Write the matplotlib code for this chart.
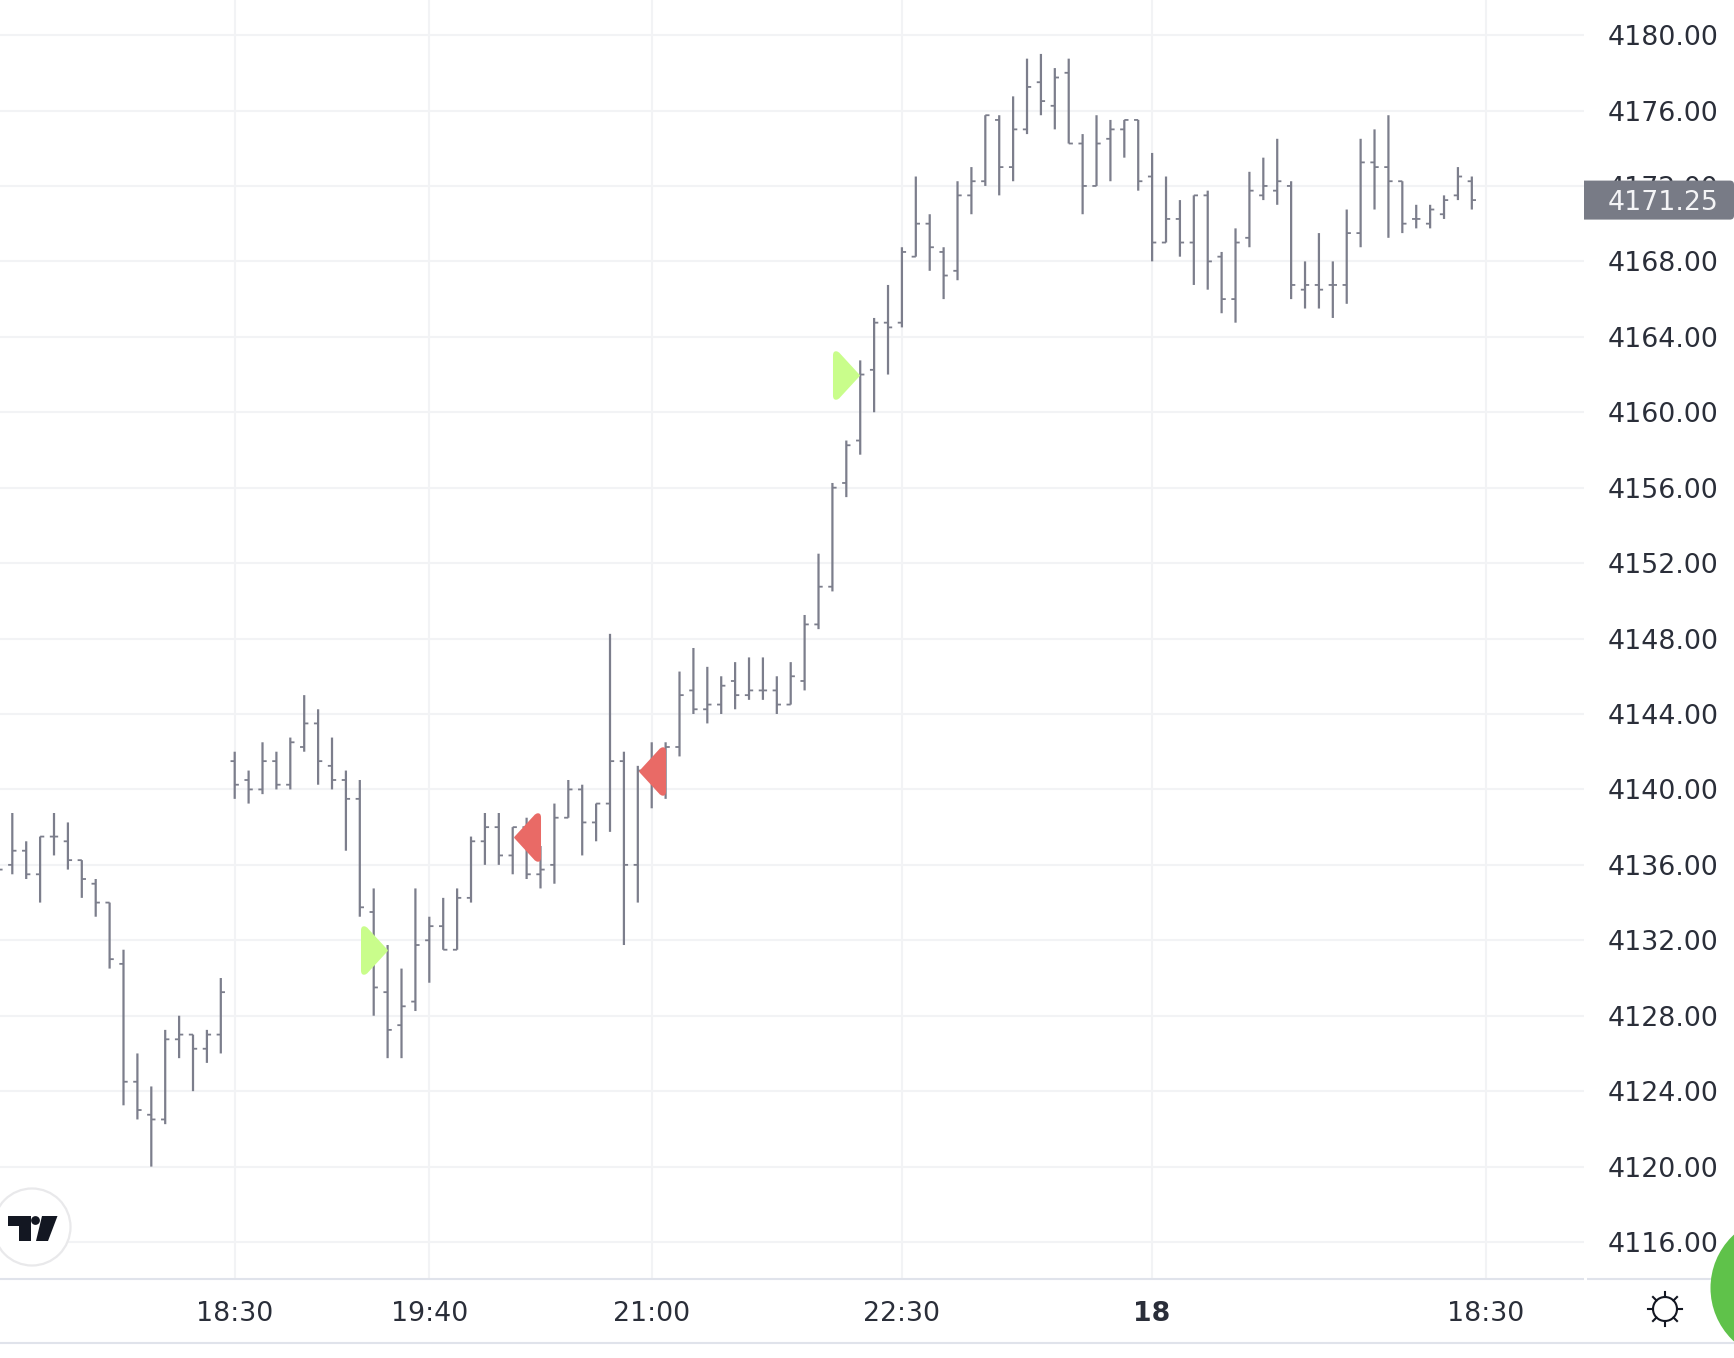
import numpy as np
import matplotlib
matplotlib.use("Agg")
import matplotlib.pyplot as plt
from matplotlib.path import Path
from matplotlib.patches import Circle, Polygon, PathPatch

plt.rcParams['font.family'] = ['DejaVu Sans']

# first bar is the one cut off by the left edge
first_bar = -1

opens = [4136.5,
         4136.0, 4136.75, 4135.5, 4137.5, 4137.25, 4136.25, 4135.0, 4134.0, 4130.75, 4124.5,
         4122.75, 4122.5, 4126.75, 4127.0, 4126.25, 4127.0, 4141.5, 4140.5, 4140.0, 4141.5,
         4140.25, 4142.25, 4143.5, 4141.25, 4140.5, 4139.5, 4133.5, 4129.25, 4127.5, 4128.75,
         4132.0, 4132.75, 4131.5, 4134.25, 4137.25, 4138.0, 4136.5, 4138.0, 4135.5, 4136.0,
         4138.5, 4140.0, 4138.25, 4139.25, 4141.5, 4136.0, 4141.0, 4141.25, 4142.25, 4145.25,
         4144.25, 4144.5, 4145.75, 4145.0, 4145.25, 4145.25, 4144.5, 4145.75, 4148.75, 4150.75,
         4156.25, 4158.5, 4162.25, 4164.75, 4164.75, 4168.25, 4170.0, 4168.5, 4167.5, 4171.5,
         4172.25, 4175.5, 4173.0, 4175.0, 4177.5, 4176.25, 4178.0, 4174.25, 4172.0, 4174.5,
         4175.0, 4175.5, 4172.5, 4169.0, 4170.25, 4169.0, 4171.5, 4168.25, 4166.0, 4169.25,
         4171.5, 4171.75, 4172.0, 4166.5, 4166.75, 4166.75, 4166.75, 4169.5, 4173.25, 4173.0,
         4172.25, 4170.25, 4170.0, 4170.5, 4171.5, 4172.25]
highs = [4138.0,
         4138.75, 4137.25, 4137.5, 4138.75, 4138.25, 4136.25, 4135.25, 4134.0, 4131.5, 4126.0,
         4124.25, 4127.25, 4128.0, 4127.0, 4127.25, 4130.0, 4142.0, 4141.0, 4142.5, 4142.0,
         4142.75, 4145.0, 4144.25, 4142.75, 4141.0, 4140.5, 4134.75, 4131.75, 4130.5, 4134.75,
         4133.25, 4134.25, 4134.75, 4137.5, 4138.75, 4138.75, 4138.0, 4138.5, 4137.0, 4139.25,
         4140.5, 4140.25, 4139.25, 4148.25, 4142.0, 4141.25, 4142.5, 4142.5, 4146.25, 4147.5,
         4146.5, 4146.0, 4146.75, 4147.0, 4147.0, 4146.0, 4146.75, 4149.25, 4152.5, 4156.25,
         4158.5, 4162.75, 4165.0, 4166.75, 4168.75, 4172.5, 4170.5, 4168.75, 4172.25, 4173.0,
         4175.75, 4175.75, 4176.75, 4178.75, 4179.0, 4178.25, 4178.75, 4174.75, 4175.75, 4175.5,
         4175.5, 4175.5, 4173.75, 4172.5, 4171.25, 4171.5, 4171.75, 4168.5, 4169.75, 4172.75,
         4173.5, 4174.5, 4172.25, 4168.0, 4169.5, 4168.0, 4170.75, 4174.5, 4175.0, 4175.75,
         4172.25, 4171.0, 4171.0, 4171.5, 4173.0, 4172.5]
lows = [4135.0,
        4135.5, 4135.25, 4134.0, 4136.5, 4135.75, 4134.25, 4133.25, 4130.5, 4123.25, 4122.5,
        4120.0, 4122.25, 4125.75, 4124.0, 4125.5, 4126.0, 4139.5, 4139.25, 4139.75, 4140.0,
        4140.0, 4142.0, 4140.25, 4140.0, 4136.75, 4133.25, 4128.0, 4125.75, 4125.75, 4128.25,
        4129.75, 4131.5, 4131.5, 4134.0, 4136.0, 4136.0, 4135.5, 4135.25, 4134.75, 4135.0,
        4138.5, 4136.5, 4137.25, 4137.75, 4131.75, 4134.0, 4139.0, 4139.5, 4141.75, 4144.0,
        4143.5, 4144.0, 4144.25, 4144.75, 4144.75, 4144.0, 4144.5, 4145.25, 4148.5, 4150.5,
        4155.5, 4157.75, 4160.0, 4162.0, 4164.5, 4168.25, 4167.5, 4166.0, 4167.0, 4170.5,
        4172.0, 4171.5, 4172.25, 4174.75, 4175.75, 4175.0, 4174.25, 4170.5, 4172.0, 4172.25,
        4173.5, 4171.75, 4168.0, 4169.0, 4168.25, 4166.75, 4166.5, 4165.25, 4164.75, 4168.75,
        4171.25, 4171.0, 4166.0, 4165.5, 4165.5, 4165.0, 4165.75, 4168.75, 4170.75, 4169.25,
        4169.5, 4169.75, 4169.75, 4170.25, 4171.25, 4170.75]
closes = [4135.75,
          4136.75, 4135.5, 4137.5, 4137.5, 4136.25, 4135.25, 4134.0, 4131.0, 4124.5, 4123.0,
          4122.5, 4126.75, 4127.0, 4126.25, 4127.0, 4129.25, 4140.25, 4140.0, 4141.5, 4140.25,
          4142.5, 4143.5, 4141.5, 4140.5, 4139.5, 4133.75, 4129.5, 4127.25, 4128.5, 4131.75,
          4132.75, 4131.5, 4134.25, 4137.25, 4138.0, 4136.5, 4138.0, 4135.5, 4135.75, 4138.5,
          4140.0, 4138.25, 4139.25, 4141.5, 4136.0, 4141.0, 4141.25, 4142.25, 4145.0, 4144.25,
          4144.5, 4145.5, 4145.0, 4145.25, 4145.25, 4144.5, 4146.0, 4148.75, 4150.75, 4156.0,
          4158.25, 4162.0, 4164.75, 4164.5, 4168.5, 4170.0, 4168.75, 4167.25, 4171.5, 4172.25,
          4175.75, 4173.0, 4175.0, 4177.25, 4176.5, 4177.75, 4174.25, 4172.0, 4174.25, 4175.0,
          4175.5, 4172.25, 4169.0, 4170.25, 4169.0, 4171.5, 4168.0, 4166.0, 4169.0, 4171.75,
          4172.0, 4172.25, 4166.75, 4166.75, 4166.5, 4166.75, 4169.5, 4173.25, 4173.0, 4172.25,
          4170.0, 4170.25, 4170.75, 4171.25, 4172.5, 4171.25]

buy_bars = [26, 60]
buy_prices = [4131.5, 4162.0]
sell_bars = [37, 46]
sell_prices = [4137.5, 4141.0]

price_ticks = list(range(4116, 4184, 4))
time_bars = [16, 30, 46, 64, 82, 106]
time_labels = ['18:30', '19:40', '21:00', '22:30', '18', '18:30']

bar_color = '#7c7e8c'
grid_color = '#f2f3f5'
text_color = '#2a2e39'
line_color = '#e0e3eb'

W, H = 1734, 1358
axis_x = 1584
axis_y = 1279

fig = plt.figure(figsize=(W / 100, H / 100), dpi=100, facecolor='white')
ax = fig.add_axes([0, (H - axis_y) / H, axis_x / W, axis_y / H])
ax.set_xlim(-0.885, 113.07)
ax.set_ylim(4114.04, 4181.86)

for s in ax.spines.values():
    s.set_visible(False)
ax.set_axisbelow(True)
ax.grid(True, color=grid_color, linewidth=1.5)

ax.yaxis.tick_right()
ax.set_yticks(price_ticks)
ax.set_yticklabels(['%.2f' % p for p in price_ticks])
ax.set_xticks(time_bars)
ax.set_xticklabels(time_labels)
ax.tick_params(axis='y', length=0, pad=17, labelsize=19.3, labelcolor=text_color)
ax.tick_params(axis='x', length=0, pad=16, labelsize=19.3, labelcolor=text_color)
ax.get_xticklabels()[4].set_fontweight('bold')

# ohlc bars
bars = np.arange(first_bar, first_bar + len(opens))
tick = 0.3
ax.vlines(bars, lows, highs, color=bar_color, linewidth=1.6, zorder=3, snap=False)
ax.hlines(opens, bars - tick, bars, color=bar_color, linewidth=1.3, zorder=3, snap=False)
ax.hlines(closes, bars, bars + tick, color=bar_color, linewidth=1.3, zorder=3, snap=False)

# rounded triangle for the signals
verts = [(-13.5, 20), (-13.5, 24.5), (-10.2, 24.2), (-8, 24), (-6.5, 22), (13, 0.8), (13.8, 0),
         (13, -0.8), (-6.5, -22), (-8, -24), (-10.2, -24.2), (-13.5, -24.5), (-13.5, -20),
         (-13.5, 20)]
codes = [Path.MOVETO, Path.CURVE3, Path.CURVE3, Path.CURVE3, Path.CURVE3, Path.LINETO,
         Path.CURVE3, Path.CURVE3, Path.LINETO, Path.CURVE3, Path.CURVE3, Path.CURVE3,
         Path.CURVE3, Path.CLOSEPOLY]
right_tri = Path(verts, codes)
left_tri = Path([(-x, y) for x, y in verts], codes)
ax.plot(buy_bars, buy_prices, linestyle='none', marker=right_tri, markersize=35.3,
        markerfacecolor='#c9fd8b', markeredgewidth=0, zorder=4)
ax.plot(sell_bars, sell_prices, linestyle='none', marker=left_tri, markersize=35.3,
        markerfacecolor='#e96a66', markeredgewidth=0, zorder=4)

# everything around the chart, in pixels
over = fig.add_axes([0, 0, 1, 1], zorder=10)
over.set_xlim(0, W)
over.set_ylim(H, 0)
over.axis('off')

# last price label
last = closes[-1]
fig.canvas.draw()
last_y = H - ax.transData.transform((0, last))[1]
top, bot = last_y - 19.5, last_y + 19.5
box = Path([(axis_x, top), (W - 4, top), (W, top), (W, top + 4), (W, bot - 4), (W, bot),
            (W - 4, bot), (axis_x, bot), (axis_x, top)],
           [Path.MOVETO, Path.LINETO, Path.CURVE3, Path.CURVE3, Path.LINETO, Path.CURVE3,
            Path.CURVE3, Path.LINETO, Path.CLOSEPOLY])
over.add_patch(PathPatch(box, facecolor='#787b86', lw=0))
over.text(1608, last_y, '%.2f' % last, color='#f4f4f6', fontsize=19.3,
          va='center_baseline', ha='left')

# axis lines
over.plot([0, axis_x], [axis_y, axis_y], color=line_color, lw=1.5, solid_capstyle='butt')
over.plot([axis_x + 3, W], [axis_y, axis_y], color=line_color, lw=1.5, solid_capstyle='butt')
over.plot([0, W], [1343, 1343], color=line_color, lw=1.5, solid_capstyle='butt')

# tradingview badge
over.add_patch(Circle((32, 1227), 38.5, facecolor='white', edgecolor='#e9e9eb', lw=1.6))
logo = '#131722'
over.add_patch(Polygon([(8, 1216), (31, 1216), (31, 1241), (19, 1241), (19, 1226), (8, 1226)],
                       color=logo, lw=0))
over.add_patch(Circle((35.5, 1220.5), 4.4, color=logo, lw=0))
over.add_patch(Polygon([(42, 1216), (57.5, 1216), (48, 1241), (36, 1241)], color=logo, lw=0))

# theme button
sun = (1665, 1309)
over.add_patch(Circle(sun, 12, facecolor='none', edgecolor=logo, lw=1.5))
for a in np.arange(8) * np.pi / 4:
    over.plot([sun[0] + 12 * np.cos(a), sun[0] + 17 * np.cos(a)],
              [sun[1] + 12 * np.sin(a), sun[1] + 17 * np.sin(a)], color=logo, lw=1.5)

# green chat button, cut off by the edge
over.add_patch(Circle((1783, 1288), 72.5, color='#5fc24a', lw=0, zorder=5))

fig.savefig('out.png', dpi=100, facecolor='white')
